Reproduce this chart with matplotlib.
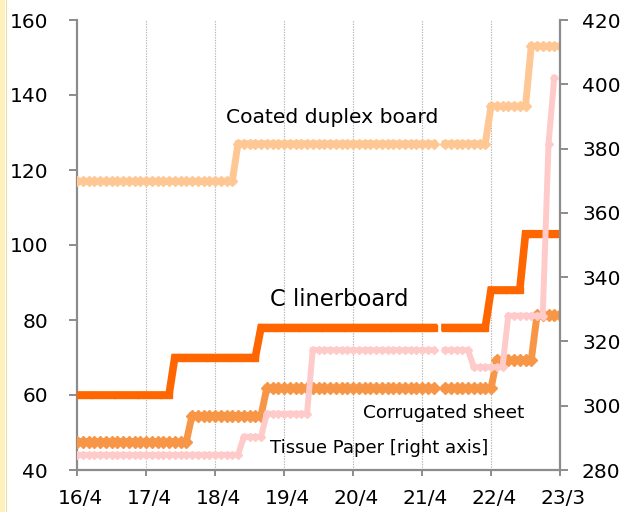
import numpy as np
import matplotlib
matplotlib.use("Agg")
import matplotlib.pyplot as plt
from matplotlib.patches import Rectangle
from matplotlib.lines import Line2D
import matplotlib.transforms as mtransforms

nan = np.nan

# monthly data 2016/4 ... 2023/4 (one row per fiscal year)
coated = [117, 117, 117, 117, 117, 117, 117, 117, 117, 117, 117, 117,
          117, 117, 117, 117, 117, 117, 117, 117, 117, 117, 117, 117,
          117, 117, 117, 117, 127, 127, 127, 127, 127, 127, 127, 127,
          127, 127, 127, 127, 127, 127, 127, 127, 127, 127, 127, 127,
          127, 127, 127, 127, 127, 127, 127, 127, 127, 127, 127, 127,
          127, 127, 127, nan, 127, 127, 127, 127, 127, 127, 127, 127,
          137, 137, 137, 137, 137, 137, 137, 153, 153, 153, 153, 153,
          153]

liner = [60, 60, 60, 60, 60, 60, 60, 60, 60, 60, 60, 60,
         60, 60, 60, 60, 60, 70, 70, 70, 70, 70, 70, 70,
         70, 70, 70, 70, 70, 70, 70, 70, 78, 78, 78, 78,
         78, 78, 78, 78, 78, 78, 78, 78, 78, 78, 78, 78,
         78, 78, 78, 78, 78, 78, 78, 78, 78, 78, 78, 78,
         78, 78, 78, nan, 78, 78, 78, 78, 78, 78, 78, 78,
         88, 88, 88, 88, 88, 88, 103, 103, 103, 103, 103, 103,
         103]

corrugated = [47.5, 47.5, 47.5, 47.5, 47.5, 47.5, 47.5, 47.5, 47.5, 47.5, 47.5, 47.5,
              47.5, 47.5, 47.5, 47.5, 47.5, 47.5, 47.5, 47.5, 54.5, 54.5, 54.5, 54.5,
              54.5, 54.5, 54.5, 54.5, 54.5, 54.5, 54.5, 54.5, 54.5, 61.8, 61.8, 61.8,
              61.8, 61.8, 61.8, 61.8, 61.8, 61.8, 61.8, 61.8, 61.8, 61.8, 61.8, 61.8,
              61.8, 61.8, 61.8, 61.8, 61.8, 61.8, 61.8, 61.8, 61.8, 61.8, 61.8, 61.8,
              61.8, 61.8, 61.8, nan, 61.8, 61.8, 61.8, 61.8, 61.8, 61.8, 61.8, 61.8,
              61.8, 69.3, 69.3, 69.3, 69.3, 69.3, 69.3, 69.3, 81.3, 81.3, 81.3, 81.3,
              81.3]

tissue = [284.7, 284.7, 284.7, 284.7, 284.7, 284.7, 284.7, 284.7, 284.7, 284.7, 284.7, 284.7,
          284.7, 284.7, 284.7, 284.7, 284.7, 284.7, 284.7, 284.7, 284.7, 284.7, 284.7, 284.7,
          284.7, 284.7, 284.7, 284.7, 284.7, 290.3, 290.3, 290.3, 290.3, 297.5, 297.5, 297.5,
          297.5, 297.5, 297.5, 297.5, 297.5, 317.3, 317.3, 317.3, 317.3, 317.3, 317.3, 317.3,
          317.3, 317.3, 317.3, 317.3, 317.3, 317.3, 317.3, 317.3, 317.3, 317.3, 317.3, 317.3,
          317.3, 317.3, 317.3, nan, 317.3, 317.3, 317.3, 317.3, 317.3, 312.0, 312.0, 312.0,
          312.0, 312.0, 312.0, 328.0, 328.0, 328.0, 328.0, 328.0, 328.0, 328.0, 381.5, 402.0,
          nan]

tick_labels = ["16/4", "17/4", "18/4", "19/4", "20/4", "21/4", "22/4", "23/3"]
left_ticks = [40, 60, 80, 100, 120, 140, 160]
right_ticks = [280, 300, 320, 340, 360, 380, 400, 420]

labels = {
    "coated": "Coated duplex board",
    "liner": "C linerboard",
    "corrugated": "Corrugated sheet",
    "tissue": "Tissue Paper [right axis]",
}

c_coated = "#FFC794"
c_liner = "#FF6600"
c_corr = "#F79646"
c_tissue = "#FFCACA"
spine_c = "#8C8C8C"

plt.rcParams["font.family"] = ["DejaVu Sans"]
fig = plt.figure(figsize=(6.25, 5.12), dpi=100)
W, H = 625, 512
ax = fig.add_axes([77 / W, (H - 470) / H, (560 - 77) / W, (470 - 20) / H])
ax2 = ax.twinx()

x = np.arange(len(coated))

ax.plot(x, coated, color=c_coated, lw=5, marker="D", ms=5.6, mec=c_coated,
        mfc=c_coated, solid_joinstyle="miter", zorder=3)
ax.plot(x, liner, color=c_liner, lw=5.5, marker="s", ms=5.0, mec=c_liner,
        mfc=c_liner, solid_joinstyle="miter", zorder=4)
ax.plot(x, corrugated, color=c_corr, lw=5, marker="D", ms=5.8, mec=c_corr,
        mfc=c_corr, solid_joinstyle="miter", zorder=3)
ax2.plot(x, tissue, color=c_tissue, lw=4.3, marker="D", ms=3.9, mec=c_tissue,
         mfc=c_tissue, solid_joinstyle="miter", zorder=3)

xticks = [0, 12, 24, 36, 48, 60, 72, 84]
ax.set_xlim(0, 84)
ax.set_ylim(40, 160)
ax2.set_ylim(280, 420)
ax.set_xticks(xticks)
ax.set_xticklabels(tick_labels)
ax.set_yticks(left_ticks)
ax2.set_yticks(right_ticks)

# vertical dotted grid at inner year ticks
for xv in xticks[1:-1]:
    ax.axvline(xv, color="#B4B4B4", lw=0.8, ls=(0, (1.2, 1.2)), zorder=1)

for a in (ax, ax2):
    a.spines["top"].set_visible(False)
    for s in ("left", "right", "bottom"):
        a.spines[s].set_color(spine_c)
        a.spines[s].set_linewidth(1.6)
ax.spines["right"].set_visible(False)
ax2.spines["left"].set_visible(False)
ax2.spines["bottom"].set_visible(False)

ax.tick_params(axis="y", direction="out", length=5.8, width=1.4, color=spine_c,
               labelsize=14.5, pad=15, labelcolor="black")
ax.tick_params(axis="x", direction="out", length=4.5, width=1.4, color=spine_c,
               labelsize=14.5, pad=9, labelcolor="black")
ax2.tick_params(axis="y", direction="out", length=5.8, width=1.4, color=spine_c,
                labelsize=14.5, pad=10, labelcolor="black")

offset = mtransforms.ScaledTranslation(3 / 100, 0, fig.dpi_scale_trans)
for lab in ax.get_xticklabels():
    lab.set_transform(lab.get_transform() + offset)

ax.text(25.9, 132.5, labels["coated"], fontsize=14.6, ha="left", va="baseline")
ax.text(33.6, 83.6, labels["liner"], fontsize=16.3, ha="left", va="baseline")
ax.text(49.7, 53.9, labels["corrugated"], fontsize=13.3, ha="left", va="baseline")
ax.text(33.6, 44.6, labels["tissue"], fontsize=13.0, ha="left", va="baseline")

# light yellow strip at left edge
fig.patches.append(Rectangle((0, 0), 5 / W, 1, transform=fig.transFigure,
                             facecolor="#FFF0BC", edgecolor="none", zorder=0))
fig.lines.append(Line2D([5.5 / W, 5.5 / W], [0, 1], transform=fig.transFigure,
                        color="#EEDCA8", lw=0.8))

fig.savefig("out.png", dpi=100)
